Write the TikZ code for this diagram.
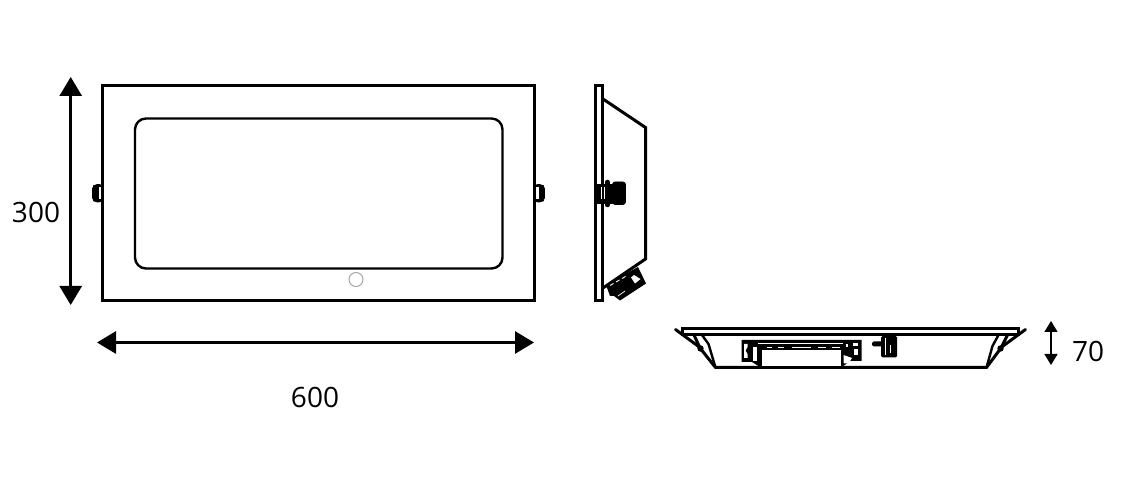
\documentclass[tikz,border=0pt]{standalone}
\usepackage{fontspec}
\setmainfont{Open Sans}
\usetikzlibrary{arrows.meta}
\tikzset{
  x=1pt,y=-1pt,
  outline/.style={draw=black,line width=3pt,line join=miter},
  thin outline/.style={draw=black,line width=2.4pt,line join=round},
  solid part/.style={fill=black,draw=black,line width=0.6pt,line join=round},
  dim big/.style={line width=3pt,{Triangle[length=19pt,width=22pt]}-{Triangle[length=19pt,width=22pt]}},
  dim small/.style={line width=1.4pt,{Triangle[length=11pt,width=13pt]}-{Triangle[length=11pt,width=13pt]}},
  dimlabel/.style={font=\fontsize{28}{28}\selectfont,inner sep=0pt,text=black},
}
\begin{document}
\begin{tikzpicture}
\useasboundingbox (0,0) rectangle (1136,502);
% --- front view
\draw[outline,fill=white] (102.5,85.5) rectangle (534.5,300.5);
\draw[thin outline,rounded corners=11pt] (135,118.5) rectangle (502.5,268.5);
\draw[draw=black!35,line width=1pt] (356,279.5) circle (7);
\draw[solid part,rounded corners=2pt] (101.5,184.5) -- (95,184.5) -- (92.5,186.5) -- (92.5,200) -- (95,202) -- (101.5,202) -- cycle;
\fill[white] (98.5,187.5) rectangle (100.8,199);
\draw[solid part,rounded corners=2pt] (535.5,184.5) -- (542,184.5) -- (544.5,186.5) -- (544.5,200) -- (542,202) -- (535.5,202) -- cycle;
\fill[white] (536.2,187.5) rectangle (538.5,199);
% --- side view
\draw[outline] (603,99) -- (645.5,127.5) -- (645.5,259) -- (603,288);
\draw[outline,fill=white] (595.5,85.5) rectangle (602.5,300.5);
\draw[solid part] (596,184) rectangle (612,203);
\fill[white] (600.5,187.5) rectangle (609.5,199.5);
\draw[line width=1.8pt] (603,184) -- (603,203);
\draw[line width=4.5pt,line cap=round] (607.5,182) -- (607.5,205);
\draw[solid part,rounded corners=2.5pt] (612.5,182) rectangle (625.5,204.5);
\fill[black] (606,285) -- (638,267) -- (646,283.5) -- (620,300.5) -- (614,296) -- (610,296) -- cycle;
\fill[white] (631,277.5) -- (634,275) -- (640.5,279) -- (635,283.5) -- cycle;
\draw[white,line width=0.9pt,dash pattern=on 4pt off 3pt] (610,285.5) -- (628,275);
\draw[white,line width=0.7pt] (618,296) -- (625,291);
% --- bottom view
\draw[outline,fill=white] (682,329) -- (1018.5,329) -- (1018.5,334.5) -- (682,334.5) -- cycle;
\draw[outline,line cap=round] (675.5,329.5) -- (700,347.5);
\draw[outline,line cap=round] (1025.5,329.5) -- (1001,347.5);
\draw[outline,line join=round] (694,335) -- (700,348) -- (715.5,367.5) -- (986.5,367.5) -- (1001,348) -- (1007.5,335);
\draw[thin outline] (702,335) -- (708.5,344) -- (715.5,367.5);
\draw[thin outline] (998.5,335) -- (992.5,346) -- (986.5,367.5);
\fill (700.5,348.5) circle (3.2);
\fill (1000.5,348.5) circle (3.2);
% driver box
\fill[black] (741.5,340) -- (861.5,340) -- (861.5,361) -- (850,361) -- (842,367) -- (760,367) -- (752,362) -- (741.5,362) -- cycle;
\fill[white] (762,350.5) rectangle (841,365.8);
\fill[white] (757.5,343.3) rectangle (843,344.4);
\fill[white] (744,344) -- (747.5,344) -- (747.5,347) -- (745.5,350.5) -- (747.5,354) -- (747.5,358) -- (744,358) -- cycle;
\fill[white] (753,347) rectangle (756.5,361);
\fill[white] (846,344) rectangle (848,347.5);
\fill[white] (853,343.5) rectangle (858,346.5);
\fill[white] (854,349) rectangle (858,355);
\fill[white] (843.5,355) -- (852,358) -- (848.5,363.5) -- (843.5,363.5) -- cycle;
\foreach \a/\b in {767/772,778/784,792/811,818/826,832/840}{\fill[white] (\a,346.7) rectangle (\b,348);}
% clip
\fill[black,rounded corners=1.5pt] (881,336) rectangle (897,357.5);
\fill[black,rounded corners=1.5pt] (872,341.5) rectangle (884,346.5);
\fill[white] (884.5,338) rectangle (885.1,355);
\fill[white] (889.5,345) rectangle (890.1,353);
% --- dimensions
\coordinate (hTop) at (70.7,77);
\coordinate (hBot) at (70.7,305);
\draw[dim big] (hTop) -- (hBot);
\coordinate (wL) at (97,342.5);
\coordinate (wR) at (534,342.5);
\draw[dim big] (wL) -- (wR);
\coordinate (dTop) at (1051,321);
\coordinate (dBot) at (1051,365);
\draw[dim small] (dTop) -- (dBot);
\node[dimlabel] (h) at (36,212.5) {300};
\node[dimlabel] (w) at (315,397.5) {600};
\node[dimlabel] (d) at (1088,351.5) {70};
\end{tikzpicture}
\end{document}
